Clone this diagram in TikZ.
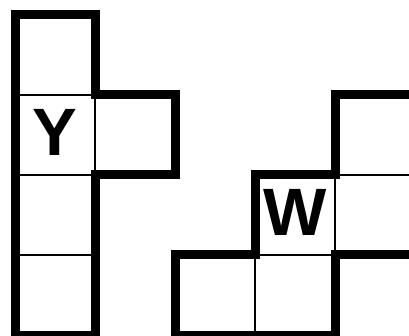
\documentclass[tikz,border=0pt]{standalone}
\usepackage{fontspec}
\setmainfont{Liberation Sans}
\begin{document}
\begin{tikzpicture}[x=1pt,y=-1pt,
  thick outline/.style={line width=9pt, line join=miter},
  thin grid/.style={line width=1.5pt},
  letter/.style={font=\fontsize{67}{67}\selectfont\bfseries, inner sep=0pt}]
\useasboundingbox (0,0) rectangle (409,336);
\clip (0,0) rectangle (409,336);
% thin interior lines
\draw[thin grid] (15,95) -- (95,95) (15,175) -- (95,175) (15,255) -- (95,255) (95,95) -- (95,175);
\draw[thin grid] (335,175) -- (335,255) (335,175) -- (420,175) (255,255) -- (335,255) (255,255) -- (255,340);
% thick outlines
\draw[thick outline] (15,15) -- (95,15) -- (95,95) -- (175,95) -- (175,175) -- (95,175) -- (95,335) -- (15,335) -- cycle;
\draw[thick outline] (175,255) -- (255,255) -- (255,175) -- (335,175) -- (335,95) -- (420,95) -- (420,255) -- (335,255) -- (335,335) -- (175,335) -- cycle;
% letters
\node[letter] (y) at (55,132) {Y};
\node[letter] (w) at (295,212) {W};
\end{tikzpicture}
\end{document}
